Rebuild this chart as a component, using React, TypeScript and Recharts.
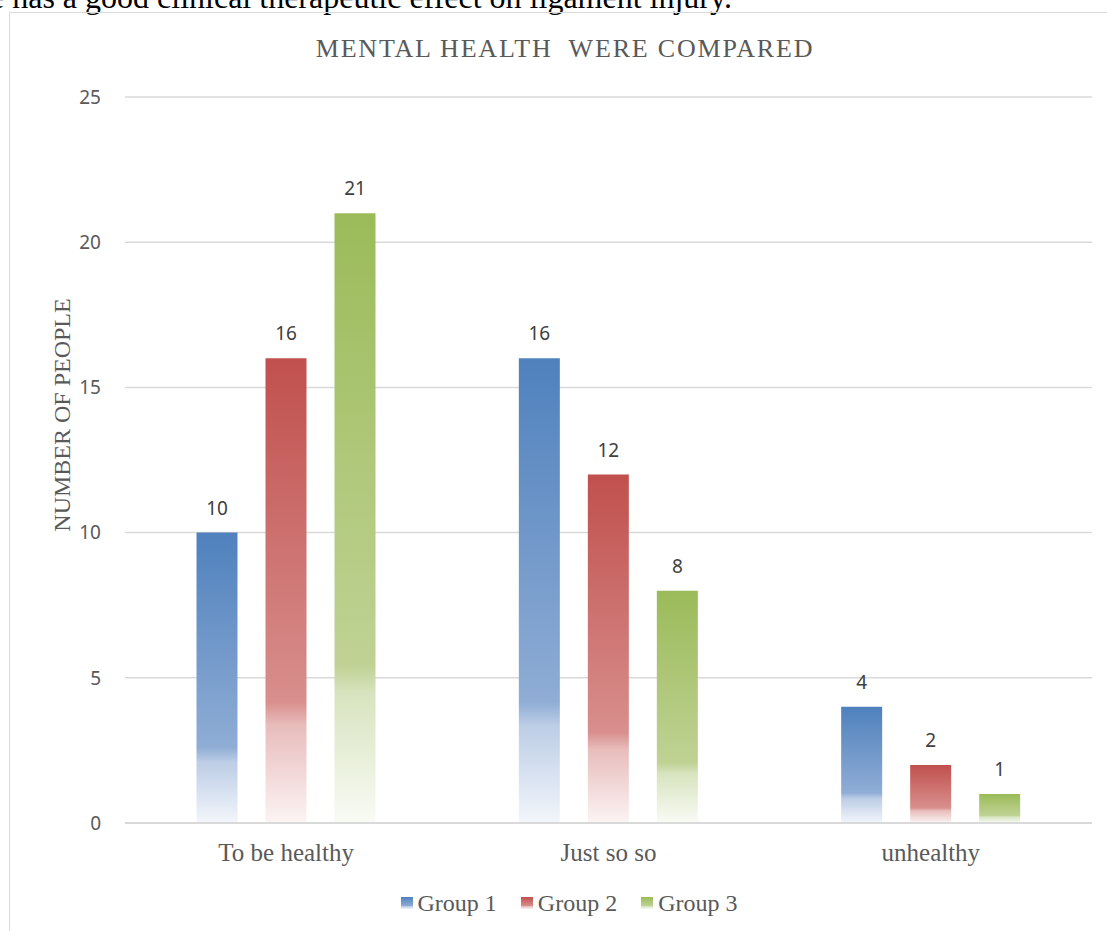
import { Bar, BarChart, CartesianGrid, LabelList, Legend, XAxis, YAxis } from "recharts";

const categories = ["To be healthy", "Just so so", "unhealthy"];
const group1 = [10, 16, 4];
const group2 = [16, 12, 2];
const group3 = [21, 8, 1];
const yTicks = [0, 5, 10, 15, 20, 25];

const rows = categories.map((category, i) => ({
  category,
  g1: group1[i],
  g2: group2[i],
  g3: group3[i]
}));

const SERIES = [
  { key: "g1", name: "Group 1", id: "fill-g1", stops: ["#4F81BD", "#8FADD5", "#BCCDE6", "#F3F6FB"] },
  { key: "g2", name: "Group 2", id: "fill-g2", stops: ["#C0504D", "#D88F8D", "#E8BDBC", "#FCF4F4"] },
  { key: "g3", name: "Group 3", id: "fill-g3", stops: ["#9BBB59", "#BFD294", "#D8E4C0", "#F9FBF5"] }
];

const SERIF = '"Liberation Serif", "Times New Roman", serif';
const SANS = '"Noto Sans", "Open Sans", sans-serif';

function GroupLegend({ payload }: { payload?: { value: string; color: string }[] }) {
  return (
    <div
      style={{
        display: "flex",
        justifyContent: "center",
        alignItems: "center",
        height: 28,
        paddingLeft: 55,
        fontFamily: SERIF,
        fontSize: 24,
        color: "#595959"
      }}
    >
      {(payload ?? []).map((item) => (
        <span key={item.value} style={{ display: "inline-flex", alignItems: "center", marginRight: 24 }}>
          <svg width={12} height={12} style={{ marginRight: 5 }}>
            <rect width={12} height={12} fill={item.color} />
          </svg>
          {item.value}
        </span>
      ))}
    </div>
  );
}

export default function App() {
  return (
    <div style={{ position: "absolute", top: 0, left: 0, width: 1107, height: 931, overflow: "hidden", background: "#fff" }}>
      {/* tail of the paragraph above the figure, cut off at the top */}
      <div
        style={{
          position: "absolute",
          top: -19,
          left: -10,
          fontFamily: SERIF,
          fontSize: 32,
          lineHeight: "32px",
          color: "#000",
          whiteSpace: "nowrap"
        }}
      >
        e has a good clinical therapeutic effect on ligament injury.
      </div>
      <div style={{ position: "absolute", top: 12, left: 9, width: 1200, height: 1000, borderTop: "1px solid #D9D9D9", borderLeft: "1px solid #D9D9D9" }} />
      <div
        style={{
          position: "absolute",
          top: 35,
          left: 0,
          width: 1130,
          textAlign: "center",
          fontFamily: SERIF,
          fontSize: 26,
          lineHeight: 1.107,
          letterSpacing: 1.8,
          color: "#595959",
          whiteSpace: "pre"
        }}
      >
        MENTAL HEALTH  WERE COMPARED
      </div>
      <div
        style={{
          position: "absolute",
          left: 62,
          top: 415,
          transform: "translate(-50%, -50%) rotate(-90deg)",
          fontFamily: SERIF,
          fontSize: 24,
          color: "#595959",
          whiteSpace: "nowrap"
        }}
      >
        NUMBER OF PEOPLE
      </div>
      <div style={{ position: "absolute", top: 0, left: 0 }}>
        <BarChart width={1107} height={931} data={rows} margin={{ top: 97, right: 15, bottom: 14, left: 0 }} barGap={28} barCategoryGap={71.5}>
          <defs>
            {SERIES.map((s) => (
              <linearGradient key={s.id} id={s.id} x1="0" y1="0" x2="0" y2="1">
                <stop offset="0%" stopColor={s.stops[0]} />
                <stop offset="74%" stopColor={s.stops[1]} />
                <stop offset="79%" stopColor={s.stops[2]} />
                <stop offset="100%" stopColor={s.stops[3]} />
              </linearGradient>
            ))}
          </defs>
          <CartesianGrid vertical={false} stroke="#D9D9D9" strokeWidth={1.5} />
          <XAxis
            dataKey="category"
            height={66}
            tickSize={0}
            tickMargin={20}
            tickLine={false}
            axisLine={{ stroke: "#D9D9D9", strokeWidth: 2 }}
            tick={{ fontFamily: SERIF, fontSize: 25, fill: "#595959" }}
          />
          <YAxis
            width={125}
            domain={[0, 25]}
            ticks={yTicks}
            tickSize={0}
            tickMargin={24}
            tickLine={false}
            axisLine={false}
            tick={{ fontFamily: SANS, fontSize: 19, fill: "#595959" }}
          />
          <Legend verticalAlign="bottom" wrapperStyle={{ left: 0, width: 1107 }} content={<GroupLegend />} />
          {SERIES.map((s) => (
            <Bar key={s.key} dataKey={s.key} name={s.name} fill={`url(#${s.id})`} isAnimationActive={false}>
              <LabelList dataKey={s.key} position="top" offset={18} fill="#404040" fontFamily={SANS} fontSize={19} />
            </Bar>
          ))}
        </BarChart>
      </div>
    </div>
  );
}
